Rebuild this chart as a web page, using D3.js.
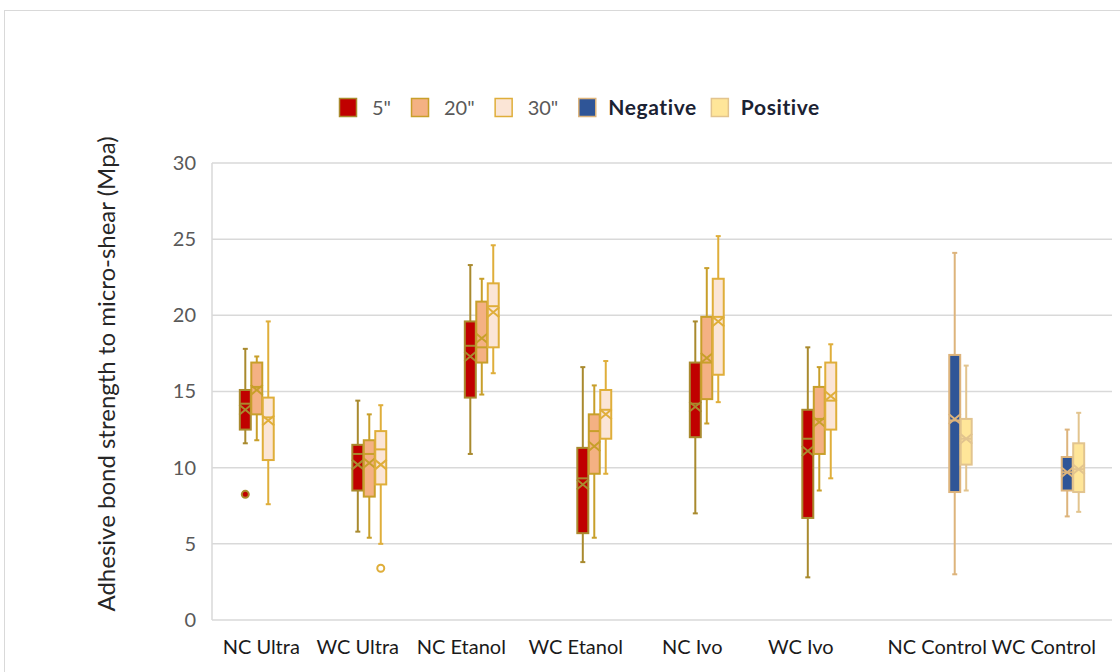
<!DOCTYPE html>
<html>
<head>
<meta charset="utf-8">
<script src="https://cdn.jsdelivr.net/npm/d3@7"></script>
<style>
  body { margin: 0; background: #fff; }
  svg { display: block; font-family: Lato, "Liberation Sans", sans-serif; }
</style>
</head>
<body>
<div id="chart"></div>
<script>
// categories and series
var categories = ["NC Ultra", "WC Ultra", "NC Etanol", "WC Etanol", "NC Ivo", "WC Ivo", "NC Control", "WC Control"];
var seriesNames = ['5"', '20"', '30"', "Negative", "Positive"];
var yTicks = [0, 5, 10, 15, 20, 25, 30];

// each entry: [whisker low, q1, median, q3, whisker high, mean]
var sec5 = [
  [11.6, 12.5, 14.2, 15.1, 17.8, 13.8],
  [5.8, 8.5, 10.9, 11.5, 14.4, 10.2],
  [10.9, 14.6, 18.0, 19.6, 23.3, 17.3],
  [3.8, 5.7, 9.3, 11.3, 16.6, 8.9],
  [7.0, 12.0, 14.2, 16.9, 19.6, 14.0],
  [2.8, 6.7, 11.9, 13.8, 17.9, 11.1],
  null, null
];
var sec20 = [
  [11.8, 13.5, 15.3, 16.9, 17.3, 15.1],
  [5.4, 8.1, 10.9, 11.8, 13.5, 10.3],
  [14.8, 16.9, 17.9, 20.9, 22.4, 18.5],
  [5.4, 9.6, 12.4, 13.5, 15.4, 11.4],
  [12.9, 14.5, 16.9, 19.9, 23.1, 17.2],
  [8.5, 10.9, 13.2, 15.3, 16.6, 13.0],
  null, null
];
var sec30 = [
  [7.6, 10.5, 13.3, 14.6, 19.6, 13.1],
  [5.0, 8.9, 11.2, 12.4, 14.1, 10.2],
  [16.2, 17.9, 20.6, 22.1, 24.6, 20.2],
  [9.6, 11.9, 13.8, 15.1, 17.0, 13.5],
  [14.3, 16.1, 19.9, 22.4, 25.2, 19.6],
  [9.3, 12.5, 14.4, 16.9, 18.1, 14.7],
  null, null
];
var negative = [null, null, null, null, null, null,
  [3.0, 8.4, 13.1, 17.4, 24.1, 13.2],
  [6.8, 8.5, 9.7, 10.7, 12.5, 9.7]
];
var positive = [null, null, null, null, null, null,
  [8.5, 10.2, 11.9, 13.2, 16.7, 11.9],
  [7.1, 8.4, 9.9, 11.6, 13.6, 9.9]
];
// outlier points: [category, series index, value]
var outliers = [
  ["NC Ultra", 0, 8.25],
  ["WC Ultra", 2, 3.4]
];

var seriesData = [sec5, sec20, sec30, negative, positive];
var fills = ["#C00000", "#F4B183", "#FBE5D6", "#2F5597", "#FFE699"];
var strokes = ["#A98A2E", "#C89F2A", "#DFAE3A", "#DDB47C", "#E2C48E"];
// the category labels sit a bit left of their slots in the original
var labelNudge = [-7, -23, -32, -30, -26, -30, -6, -12];

var W = 1120, H = 672;
var plot = {left: 212, right: 1112, top: 163, bottom: 620};

var svg = d3.select("#chart").append("svg")
  .attr("width", W).attr("height", H);

// outer chart frame
svg.append("rect")
  .attr("x", 4.5).attr("y", 10.5)
  .attr("width", W).attr("height", H)
  .attr("fill", "none").attr("stroke", "#d9d9d9");

var y = d3.scaleLinear().domain([0, 30]).range([plot.bottom, plot.top]);
var x = d3.scaleBand().domain(categories).range([plot.left, plot.right]).padding(0);
var slot = d3.scaleBand().domain(d3.range(seriesNames.length))
  .range([-x.bandwidth() * 0.255, x.bandwidth() * 0.255]);
var boxW = slot.bandwidth() - 0.5;

// gridlines
svg.append("g").selectAll("line").data(yTicks).join("line")
  .attr("x1", plot.left).attr("x2", plot.right)
  .attr("y1", function(d){ return y(d); }).attr("y2", function(d){ return y(d); })
  .attr("stroke", "#d9d9d9").attr("stroke-width", 1.5);
svg.append("line")
  .attr("x1", plot.left).attr("x2", plot.left)
  .attr("y1", plot.top).attr("y2", plot.bottom)
  .attr("stroke", "#d9d9d9").attr("stroke-width", 1.5);

// y axis labels
var yAxis = svg.append("g")
  .attr("transform", "translate(" + (plot.left - 16) + ",0)")
  .call(d3.axisLeft(y).tickValues(yTicks).tickSize(0).tickPadding(0));
yAxis.select(".domain").remove();
yAxis.selectAll("text")
  .attr("fill", "#595959").style("font-size", "20px").style("font-family", "Lato");

// x axis labels
var xAxis = svg.append("g")
  .attr("transform", "translate(0," + plot.bottom + ")")
  .call(d3.axisBottom(x).tickSize(0).tickPadding(20));
xAxis.select(".domain").remove();
xAxis.selectAll("text")
  .attr("fill", "#1a1a1a").style("font-size", "20px").style("font-family", "Lato")
  .attr("dx", function(d, i){ return labelNudge[i]; });

// y title
svg.append("text")
  .attr("transform", "translate(115," + 374 + ") rotate(-90)")
  .attr("text-anchor", "middle")
  .attr("fill", "#262626")
  .style("font-size", "24px")
  .text("Adhesive bond strength to micro-shear (Mpa)");

// boxes
seriesData.forEach(function(series, si){
  var g = svg.append("g").attr("class", "series-" + si);
  series.forEach(function(st, ci){
    if(!st) return;
    var cx = x(categories[ci]) + x.bandwidth() / 2 + slot(si) + slot.bandwidth() / 2;
    var b = g.append("g");
    // whisker
    b.append("line")
      .attr("x1", cx).attr("x2", cx).attr("y1", y(st[0])).attr("y2", y(st[4]))
      .attr("stroke", strokes[si]).attr("stroke-width", 2);
    [st[0], st[4]].forEach(function(v){
      b.append("line")
        .attr("x1", cx - 2.5).attr("x2", cx + 2.5).attr("y1", y(v)).attr("y2", y(v))
        .attr("stroke", strokes[si]).attr("stroke-width", 2);
    });
    // box
    b.append("rect")
      .attr("x", cx - boxW / 2).attr("width", boxW)
      .attr("y", y(st[3])).attr("height", y(st[1]) - y(st[3]))
      .attr("fill", fills[si]).attr("stroke", strokes[si]).attr("stroke-width", 2);
    // median
    b.append("line")
      .attr("x1", cx - boxW / 2).attr("x2", cx + boxW / 2)
      .attr("y1", y(st[2])).attr("y2", y(st[2]))
      .attr("stroke", strokes[si]).attr("stroke-width", 2);
    // mean marker
    var my = y(st[5]);
    b.append("path")
      .attr("d", "M" + (cx - 6) + "," + (my - 5) + "L" + (cx + 6) + "," + (my + 5) +
                 "M" + (cx - 6) + "," + (my + 5) + "L" + (cx + 6) + "," + (my - 5))
      .attr("stroke", strokes[si]).attr("stroke-width", 2).attr("fill", "none");
  });
});

// outliers
svg.append("g").selectAll("circle").data(outliers).join("circle")
  .attr("cx", function(d){ return x(d[0]) + x.bandwidth() / 2 + slot(d[1]) + slot.bandwidth() / 2; })
  .attr("cy", function(d){ return y(d[2]); })
  .attr("r", 3.5)
  .attr("fill", function(d){ return d[1] === 0 ? fills[0] : "#fff"; })
  .attr("stroke", function(d){ return strokes[d[1]]; })
  .attr("stroke-width", 2);

// legend
var legend = svg.append("g").attr("transform", "translate(339,98)");
var lx = 0;
seriesNames.forEach(function(name, i){
  var item = legend.append("g").attr("transform", "translate(" + lx + ",0)");
  item.append("rect")
    .attr("x", 0.5).attr("y", 0.5).attr("width", 17).attr("height", 18)
    .attr("fill", fills[i]).attr("stroke", strokes[i]).attr("stroke-width", 1.5);
  var bold = i >= 3;
  var t = item.append("text")
    .attr("x", bold ? 30 : 33).attr("y", 17)
    .attr("fill", bold ? "#1b2233" : "#595959")
    .style("font-size", bold ? "21px" : "20px")
    .style("font-weight", bold ? "bold" : "normal")
    .style("letter-spacing", bold ? "0.6px" : "0")
    .text(name);
  lx += (bold ? 30 : 33) + t.node().getComputedTextLength() + (bold ? 14 : 20);
});
</script>
</body>
</html>
